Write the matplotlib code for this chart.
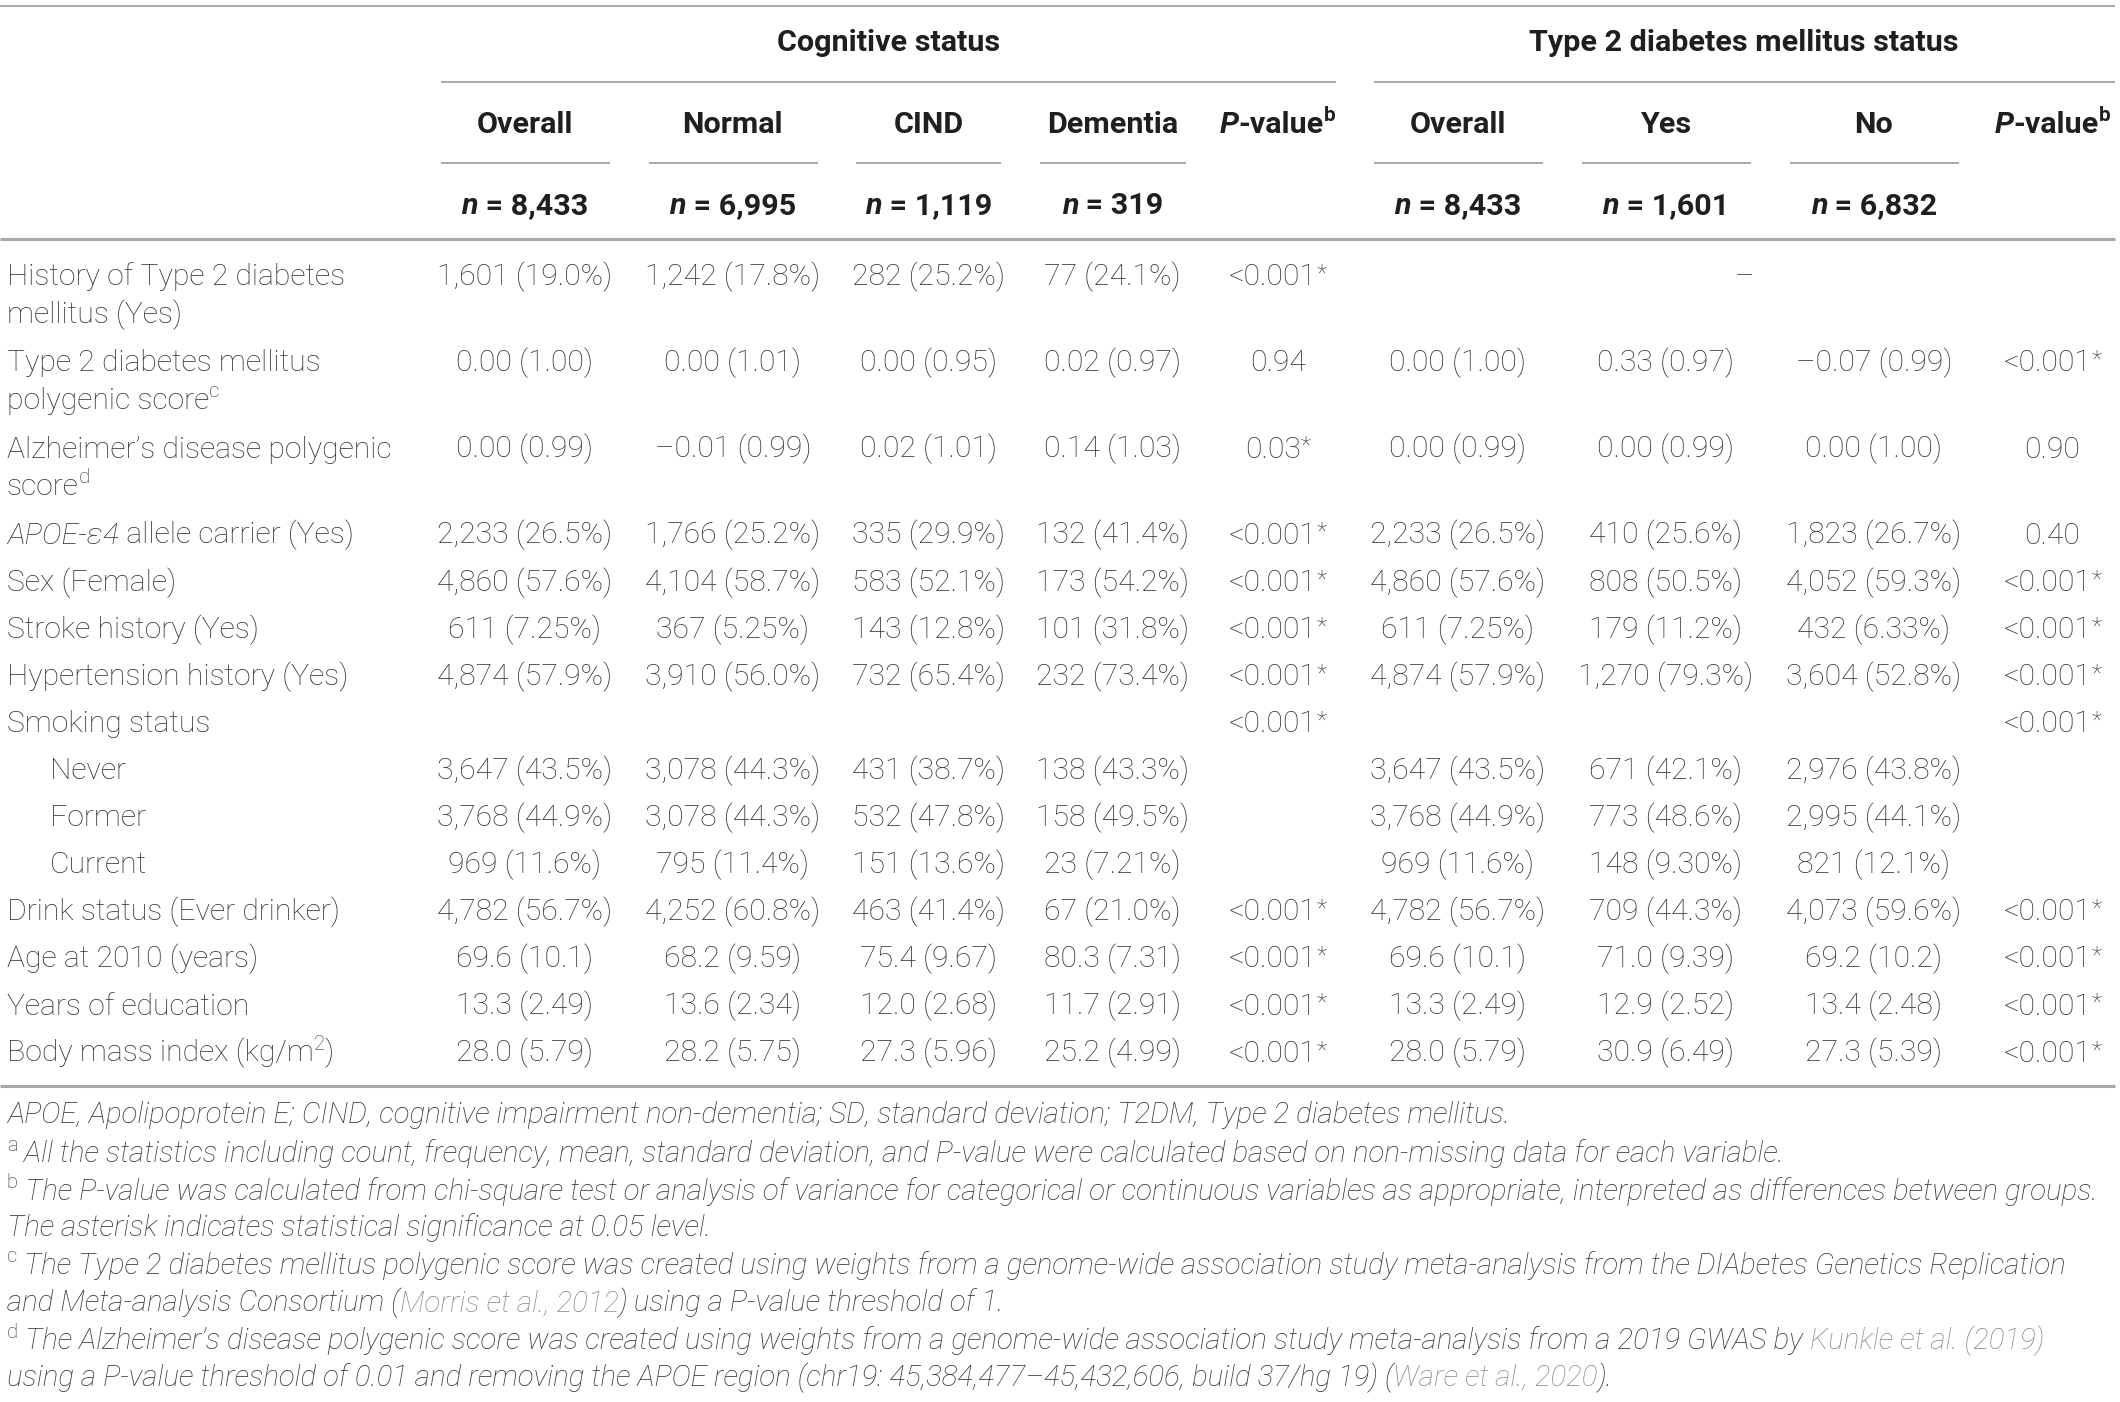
import re
import matplotlib
matplotlib.use("Agg")
import matplotlib.pyplot as plt
from matplotlib import font_manager as fm


def pick(fams):
    for f in fams:
        try:
            fm.findfont(fm.FontProperties(family=f), fallback_to_default=False)
            return f
        except Exception:
            pass
    return "DejaVu Sans"


FONT = pick(["Liberation Sans Narrow", "Roboto", "Liberation Sans"])
FAM = [FONT, "DejaVu Sans"]

# ---------------- data ----------------
group_titles = ["Cognitive status", "Type 2 diabetes mellitus status"]
col_headers = ["Overall", "Normal", "CIND", "Dementia", "_P_-value^b^",
               "Overall", "Yes", "No", "_P_-value^b^"]
col_n = ["8,433", "6,995", "1,119", "319", "", "8,433", "1,601", "6,832", ""]

row_labels = [
    ["History of Type 2 diabetes", "mellitus (Yes)"],
    ["Type 2 diabetes mellitus", "polygenic score^c^"],
    ["Alzheimer\u2019s disease polygenic", "score^d^"],
    ["_APOE-\u025b4_ allele carrier (Yes)"],
    ["Sex (Female)"],
    ["Stroke history (Yes)"],
    ["Hypertension history (Yes)"],
    ["Smoking status"],
    ["Never"],
    ["Former"],
    ["Current"],
    ["Drink status (Ever drinker)"],
    ["Age at 2010 (years)"],
    ["Years of education"],
    ["Body mass index (kg/m^2^)"],
]
row_indent = [False] * 8 + [True, True, True] + [False] * 4

cog_overall = ["1,601 (19.0%)", "0.00 (1.00)", "0.00 (0.99)", "2,233 (26.5%)", "4,860 (57.6%)",
               "611 (7.25%)", "4,874 (57.9%)", "", "3,647 (43.5%)", "3,768 (44.9%)",
               "969 (11.6%)", "4,782 (56.7%)", "69.6 (10.1)", "13.3 (2.49)", "28.0 (5.79)"]
cog_normal = ["1,242 (17.8%)", "0.00 (1.01)", "\u20130.01 (0.99)", "1,766 (25.2%)", "4,104 (58.7%)",
              "367 (5.25%)", "3,910 (56.0%)", "", "3,078 (44.3%)", "3,078 (44.3%)",
              "795 (11.4%)", "4,252 (60.8%)", "68.2 (9.59)", "13.6 (2.34)", "28.2 (5.75)"]
cog_cind = ["282 (25.2%)", "0.00 (0.95)", "0.02 (1.01)", "335 (29.9%)", "583 (52.1%)",
            "143 (12.8%)", "732 (65.4%)", "", "431 (38.7%)", "532 (47.8%)",
            "151 (13.6%)", "463 (41.4%)", "75.4 (9.67)", "12.0 (2.68)", "27.3 (5.96)"]
cog_dementia = ["77 (24.1%)", "0.02 (0.97)", "0.14 (1.03)", "132 (41.4%)", "173 (54.2%)",
                "101 (31.8%)", "232 (73.4%)", "", "138 (43.3%)", "158 (49.5%)",
                "23 (7.21%)", "67 (21.0%)", "80.3 (7.31)", "11.7 (2.91)", "25.2 (4.99)"]
cog_p = ["<0.001~*~", "0.94", "0.03~*~", "<0.001~*~", "<0.001~*~", "<0.001~*~", "<0.001~*~",
         "<0.001~*~", "", "", "", "<0.001~*~", "<0.001~*~", "<0.001~*~", "<0.001~*~"]
t2_overall = ["", "0.00 (1.00)", "0.00 (0.99)", "2,233 (26.5%)", "4,860 (57.6%)",
              "611 (7.25%)", "4,874 (57.9%)", "", "3,647 (43.5%)", "3,768 (44.9%)",
              "969 (11.6%)", "4,782 (56.7%)", "69.6 (10.1)", "13.3 (2.49)", "28.0 (5.79)"]
t2_yes = ["", "0.33 (0.97)", "0.00 (0.99)", "410 (25.6%)", "808 (50.5%)",
          "179 (11.2%)", "1,270 (79.3%)", "", "671 (42.1%)", "773 (48.6%)",
          "148 (9.30%)", "709 (44.3%)", "71.0 (9.39)", "12.9 (2.52)", "30.9 (6.49)"]
t2_no = ["", "\u20130.07 (0.99)", "0.00 (1.00)", "1,823 (26.7%)", "4,052 (59.3%)",
         "432 (6.33%)", "3,604 (52.8%)", "", "2,976 (43.8%)", "2,995 (44.1%)",
         "821 (12.1%)", "4,073 (59.6%)", "69.2 (10.2)", "13.4 (2.48)", "27.3 (5.39)"]
t2_p = ["", "<0.001~*~", "0.90", "0.40", "<0.001~*~", "<0.001~*~", "<0.001~*~",
        "<0.001~*~", "", "", "", "<0.001~*~", "<0.001~*~", "<0.001~*~", "<0.001~*~"]
t2_history_note = "\u2013"

footnotes = [
    [("APOE, Apolipoprotein E; CIND, cognitive impairment non-dementia; SD, standard deviation; "
      "T2DM, Type 2 diabetes mellitus.", "i")],
    [("a", "sup"), (" All the statistics including count, frequency, mean, standard deviation, and "
                    "P-value were calculated based on non-missing data for each variable.", "i")],
    [("b", "sup"), (" The P-value was calculated from chi-square test or analysis of variance for "
                    "categorical or continuous variables as appropriate, interpreted as differences "
                    "between groups.", "i")],
    [("The asterisk indicates statistical significance at 0.05 level.", "i")],
    [("c", "sup"), (" The Type 2 diabetes mellitus polygenic score was created using weights from a "
                    "genome-wide association study meta-analysis from the DIAbetes Genetics Replication", "i")],
    [("and Meta-analysis Consortium (", "i"), ("Morris et al., 2012", "link"),
     (") using a P-value threshold of 1.", "i")],
    [("d", "sup"), (" The Alzheimer\u2019s disease polygenic score was created using weights from a "
                    "genome-wide association study meta-analysis from a 2019 GWAS by ", "i"),
     ("Kunkle et al. (2019)", "link")],
    [("using a P-value threshold of 0.01 and removing the APOE region (chr19: 45,384,477\u201345,432,606, "
      "build 37/hg 19) (", "i"), ("Ware et al., 2020", "link"), (").", "i")],
]

# ---------------- layout (reference units: 1568 x 1042) ----------------
W, H = 1568.0, 1042.0
PX = 2120.0 / W
fig = plt.figure(figsize=(21.2, 14.02), dpi=100)
ax = fig.add_axes([0, 0, 1, 1])
ax.set_xlim(0, W)
ax.set_ylim(H, 0)
ax.axis("off")
R = fig.canvas.get_renderer()

TXT = "#333333"
HDR = "#1f1f1f"
LINK = "#8a8a8a"
LINEC = "#a8a8a8"


def measure(s, size, weight="normal", style="normal"):
    t = ax.text(0, 0, s, fontsize=size, fontweight=weight, fontstyle=style, family=FAM)
    w = t.get_window_extent(R).width / PX
    t.remove()
    return w


def calib(s, target, weight="normal", style="normal"):
    w = measure(s, 20, weight, style)
    return 20 * target / w


BODY = calib("1,601 (19.0%)", 130, "light")
BOLD = calib("Type 2 diabetes mellitus status", 316, "bold")
FOOT = calib("The P-value was calculated from chi-square test or analysis of variance for "
             "categorical or continuous variables as appropriate, interpreted as differences "
             "between groups.", 1536, "light", "italic")


def parse(s):
    out = []
    for tok in re.split(r"(\^[^^]*\^|_[^_]*_|~[^~]*~)", s):
        if not tok:
            continue
        if tok.startswith("^"):
            out.append((tok[1:-1], "sup"))
        elif tok.startswith("~"):
            out.append((tok[1:-1], "ast"))
        elif tok.startswith("_"):
            out.append((tok[1:-1], "i"))
        else:
            out.append((tok, "n"))
    return out


def draw_runs(x, yc, parts, size, ha="left", bold=False, color=TXT, link_color=LINK,
              base_style="normal"):
    em = size * 100 / 72 / PX
    base = yc + 0.36 * em
    weight = "bold" if bold else "light"
    items = []
    for txt, kind in parts:
        if kind == "sup":
            s, st, dy, col = size * 0.68, "normal", -0.40 * em, color
        elif kind == "ast":
            s, st, dy, col = size * 0.78, "normal", -0.15 * em, color
        elif kind == "i":
            s, st, dy, col = size, "italic", 0, color
        elif kind == "link":
            s, st, dy, col = size, "italic", 0, link_color
        else:
            s, st, dy, col = size, base_style, 0, color
        w = measure(txt, s, weight, st)
        items.append((txt, s, st, dy, col, w))
    total = sum(i[5] for i in items)
    if ha == "center":
        cx = x - total / 2
    elif ha == "right":
        cx = x - total
    else:
        cx = x
    for txt, s, st, dy, col, w in items:
        ax.text(cx, base + dy, txt, fontsize=s, fontweight=weight, fontstyle=st,
                family=FAM, color=col, va="baseline", ha="left")
        cx += w


def hline(x0, x1, y, lw):
    ax.plot([x0, x1], [y, y], color=LINEC, lw=lw, solid_capstyle="butt")


# rules
hline(0, 1564, 4.5, 1.4)
hline(326, 988, 61, 1.4)
hline(1016, 1564, 61, 1.4)
col_x = [388, 542, 687, 823, 945, 1078, 1232, 1386, 1518]
short_rules = [(326, 451), (480, 605), (633, 740), (769, 877),
               (1016, 1141), (1170, 1295), (1324, 1449)]
for a, b in short_rules:
    hline(a, b, 121, 1.4)
hline(0, 1564, 177.5, 2.2)
hline(0, 1564, 807.5, 2.2)

# group titles
draw_runs(657, 30, [(group_titles[0], "n")], BOLD, "center", bold=True, color=HDR)
draw_runs(1290, 30, [(group_titles[1], "n")], BOLD, "center", bold=True, color=HDR)

# column headers and n
for x, h, n in zip(col_x, col_headers, col_n):
    draw_runs(x, 91, parse(h), BOLD, "center", bold=True, color=HDR)
    if n:
        draw_runs(x, 151, [("n", "i"), (" = " + n, "n")], BOLD, "center", bold=True, color=HDR)

# body rows
row_y = [204, 268, 332, 396, 431, 466, 501, 536, 571, 606, 641, 676, 711, 746, 781]
columns = [cog_overall, cog_normal, cog_cind, cog_dementia, cog_p,
           t2_overall, t2_yes, t2_no, t2_p]
for i, (lab, y) in enumerate(zip(row_labels, row_y)):
    lx = 37 if row_indent[i] else 5
    for k, line in enumerate(lab):
        draw_runs(lx, y + 28 * k, parse(line), BODY, "left")
    for x, col in zip(col_x, columns):
        if col[i]:
            draw_runs(x, y, parse(col[i]), BODY, "center")
draw_runs(1290, row_y[0], [(t2_history_note, "n")], BODY, "center")

# footnotes
foot_y = [827, 856, 884, 911, 939, 967, 995, 1022]
for parts, y in zip(footnotes, foot_y):
    draw_runs(5, y, parts, FOOT, "left")

fig.savefig("out.png", dpi=100)
